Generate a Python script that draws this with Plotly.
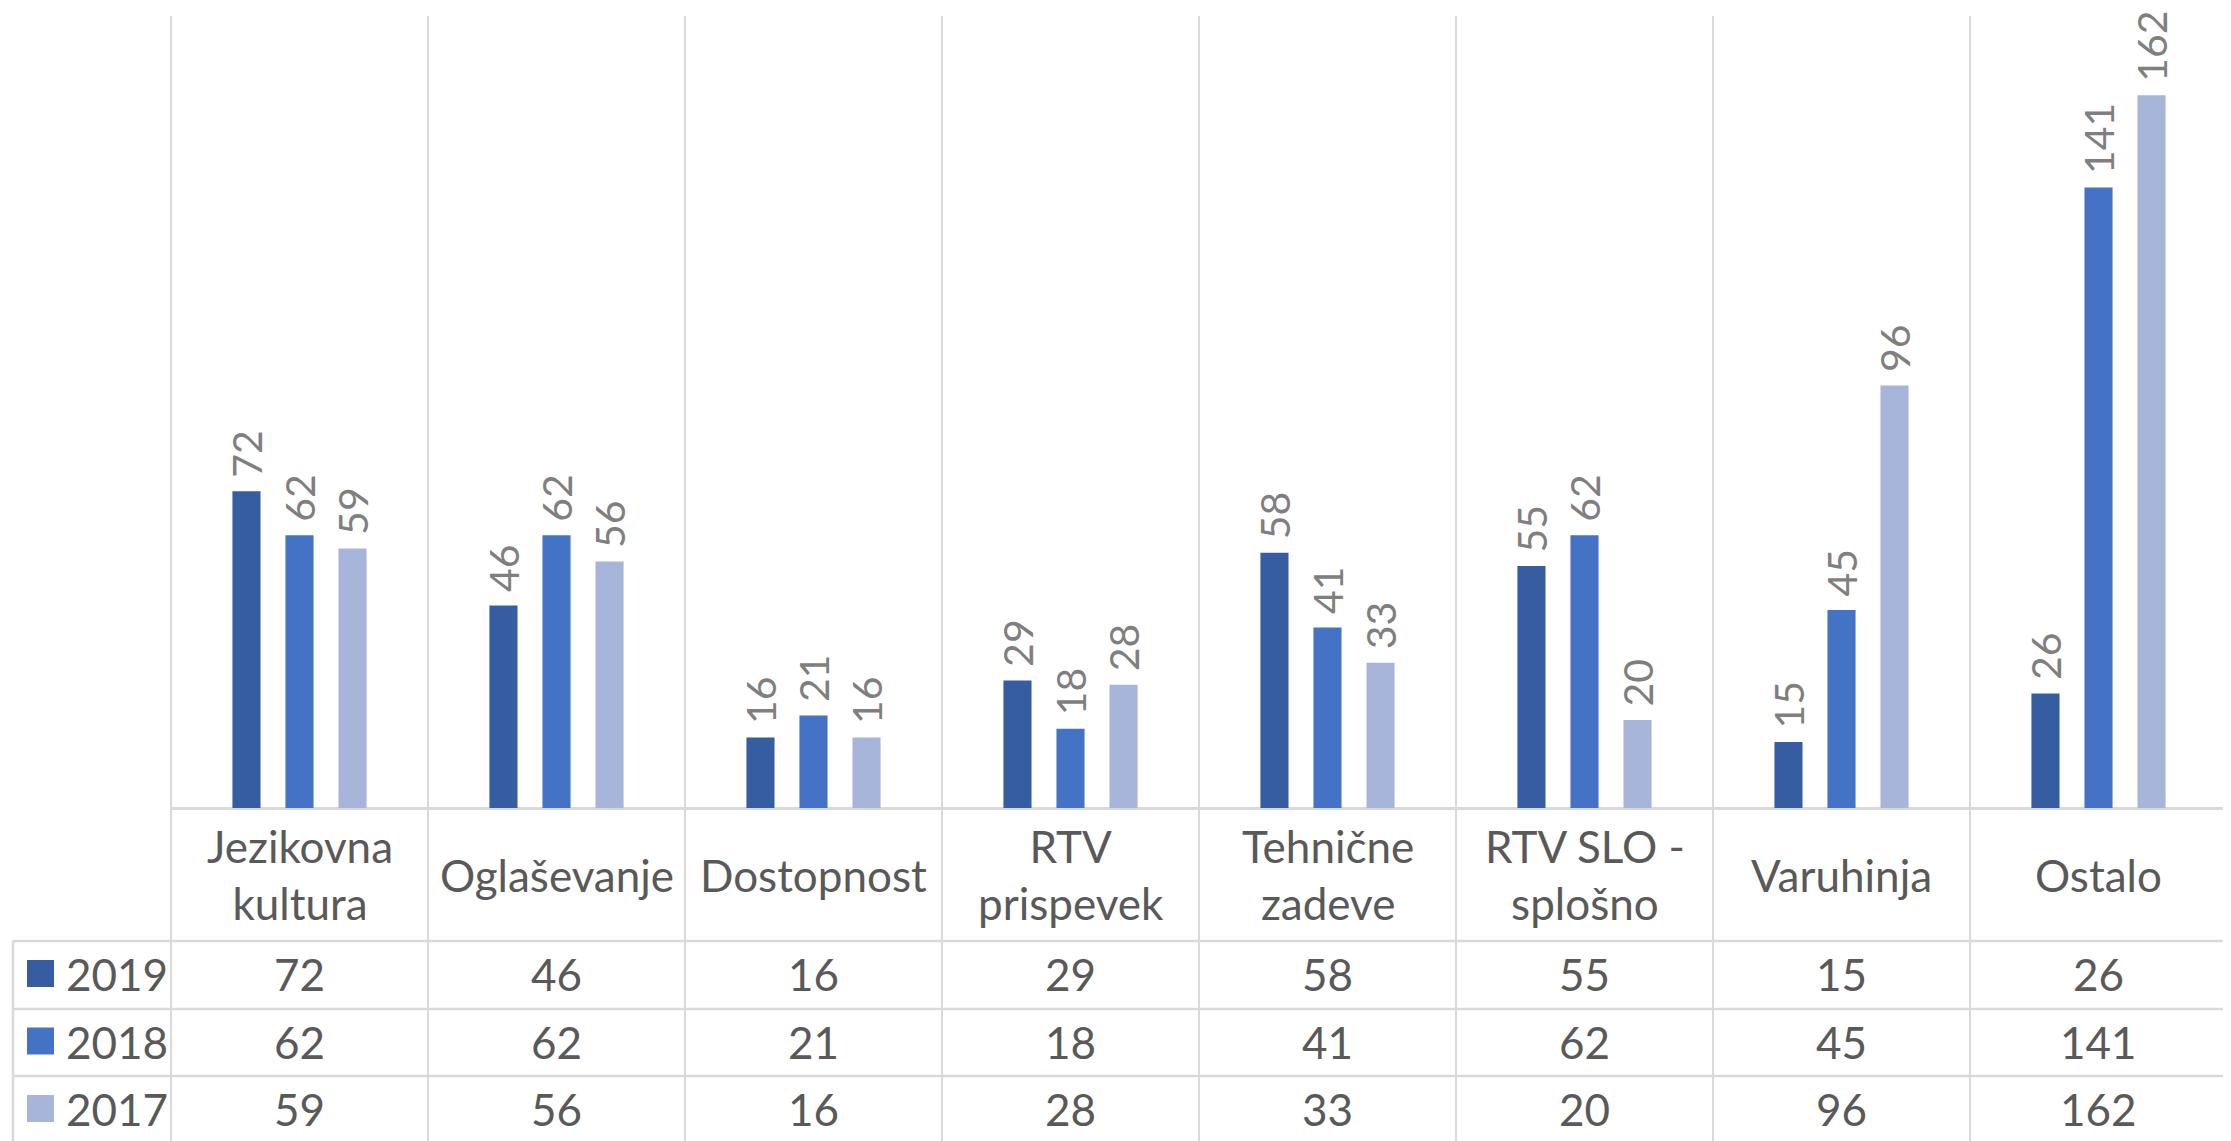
import plotly.graph_objects as go

# ---- data ----
categories = ["Jezikovna<br>kultura", "Oglaševanje", "Dostopnost", "RTV<br>prispevek",
              "Tehnične<br>zadeve", "RTV SLO -<br>splošno", "Varuhinja", "Ostalo"]
years = ["2019", "2018", "2017"]
v2019 = [72, 46, 16, 29, 58, 55, 15, 26]
v2018 = [62, 62, 21, 18, 41, 62, 45, 141]
v2017 = [59, 56, 16, 28, 33, 20, 96, 162]
series = [v2019, v2018, v2017]
colors = ["#355D9F", "#4472C4", "#A7B5DA"]

# ---- layout geometry (page pixels; page has an 8px body margin) ----
OFF = 8
PAGE_W, PAGE_H = 2231, 1141
W, H = PAGE_W - OFF, PAGE_H - OFF
PLOT_LEFT, PLOT_RIGHT, PLOT_TOP = 171, 2227, 16
ML, MR, MT, MB = PLOT_LEFT - OFF, W - (PLOT_RIGHT - OFF), PLOT_TOP - OFF, 0
Y_MAX = 180
BASE_PX = 808            # page pixel row of value 0
TABLE_LEFT_PX = 13
ROW_LINES_PX = [941, 1009, 1076]
HEADER_CENTER_PX = 874.5
ROW_CENTERS_PX = [974, 1041.5, 1109]
GRID = "#d9d9d9"
TXT = "#595959"
FONT = "Lato"
FS = 44
FS_LABEL = 41

plot_h = H - MT - MB
y_min = Y_MAX - Y_MAX * plot_h / (BASE_PX - PLOT_TOP)


def py(p):
    return (H - MB - (p - OFF)) / plot_h


def px(p):
    return ((p - OFF) - ML) / (W - ML - MR)


fig = go.Figure()
for name, vals, col in zip(years, series, colors):
    fig.add_trace(go.Bar(
        x=categories, y=vals, name=name, marker_color=col,
        marker_line_width=0,
        text=["\u00a0" + str(v) for v in vals],
        textposition="outside", textangle=-90,
        textfont=dict(family=FONT, size=FS_LABEL, color="#7f7f7f"),
        constraintext="none", cliponaxis=False,
    ))

shapes = []
for xe in (0, 1):
    shapes.append(dict(type="line", xref="paper", yref="paper", x0=xe, x1=xe,
                       y0=0, y1=1, line=dict(color=GRID, width=2)))
for rp in ROW_LINES_PX:
    shapes.append(dict(type="line", xref="paper", yref="paper",
                       x0=px(TABLE_LEFT_PX), x1=1, y0=py(rp), y1=py(rp),
                       line=dict(color=GRID, width=2.5)))
shapes.append(dict(type="line", xref="paper", yref="paper",
                   x0=px(TABLE_LEFT_PX), x1=px(TABLE_LEFT_PX), y0=0, y1=py(ROW_LINES_PX[0]),
                   line=dict(color=GRID, width=2.5)))

annotations = []
for c in categories:
    annotations.append(dict(x=c, xref="x", y=py(HEADER_CENTER_PX), yref="paper",
                            text=c, showarrow=False, xanchor="center", yanchor="middle",
                            font=dict(family=FONT, size=FS, color=TXT)))
for name, vals, col, rc in zip(years, series, colors, ROW_CENTERS_PX):
    shapes.append(dict(type="rect", xref="paper", yref="paper",
                       x0=px(27), x1=px(54), y0=py(rc - 14), y1=py(rc + 13),
                       fillcolor=col, line=dict(width=0)))
    annotations.append(dict(x=px(64), xref="paper", y=py(rc), yref="paper",
                            text=name, showarrow=False, xanchor="left", yanchor="middle",
                            font=dict(family=FONT, size=FS, color=TXT)))
    for c, v in zip(categories, vals):
        annotations.append(dict(x=c, xref="x", y=py(rc), yref="paper",
                                text=str(v), showarrow=False, xanchor="center",
                                yanchor="middle",
                                font=dict(family=FONT, size=FS, color=TXT)))

fig.update_layout(
    width=W, height=H,
    margin=dict(l=ML, r=MR, t=MT, b=MB),
    paper_bgcolor="white", plot_bgcolor="white",
    barmode="group", bargap=0.381, bargroupgap=0.47,
    showlegend=False,
    xaxis=dict(type="category", range=[-0.5, len(categories) - 0.5],
               tickson="boundaries", showgrid=True, gridcolor=GRID, gridwidth=2,
               showticklabels=False, ticks="", showline=False, zeroline=False),
    yaxis=dict(range=[y_min, Y_MAX], showgrid=False, showticklabels=False,
               ticks="", zeroline=True, zerolinecolor=GRID, zerolinewidth=2.5,
               showline=False),
    shapes=shapes, annotations=annotations,
)

fig.write_html("out.html")
